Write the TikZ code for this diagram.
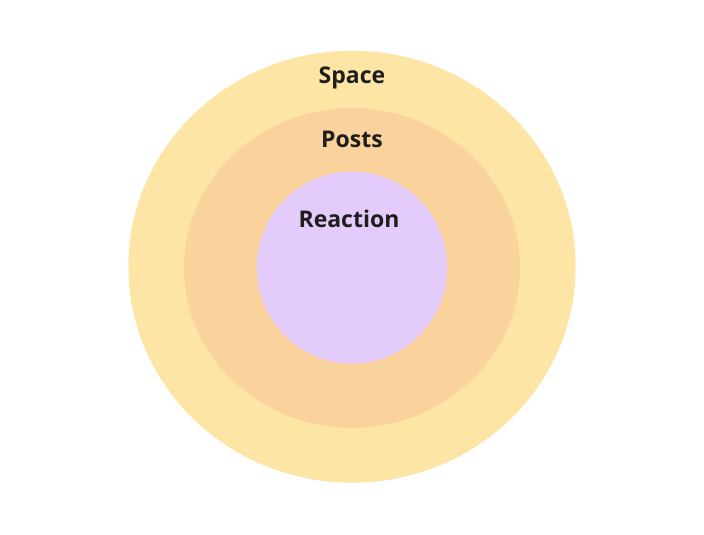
\documentclass[tikz,border=0pt]{standalone}
\usepackage{fontspec}
\setmainfont{Open Sans}
\usetikzlibrary{shapes.geometric}
\definecolor{spacecol}{HTML}{FDE6A5}
\definecolor{postscol}{HTML}{FAD29D}
\definecolor{reactcol}{HTML}{E3CCFB}
\definecolor{txtcol}{HTML}{1E1E1E}
\tikzset{
  lbl/.style={anchor=base, text=txtcol, inner sep=0pt, font=\fontsize{23}{27}\selectfont\bfseries},
  ring/.style={ellipse, draw=none, inner sep=0pt}
}
\begin{document}
\begin{tikzpicture}[x=1pt,y=-1pt]
\useasboundingbox (0,0) rectangle (704,535);
\node[ring, fill=spacecol, minimum width=447.4pt, minimum height=432pt] (space) at (352,266.7) {};
\node[ring, fill=postscol, minimum width=336pt, minimum height=319.7pt] (posts) at (352,267.9) {};
\node[ring, fill=reactcol, minimum width=190.3pt, minimum height=192pt] (reaction) at (352,267.7) {};
\node[lbl] (spacelbl) at (352,83.3) {Space};
\node[lbl] (postslbl) at (352,147.3) {Posts};
\node[lbl] (reactionlbl) at (349,227.7) {Reaction};
\end{tikzpicture}
\end{document}
